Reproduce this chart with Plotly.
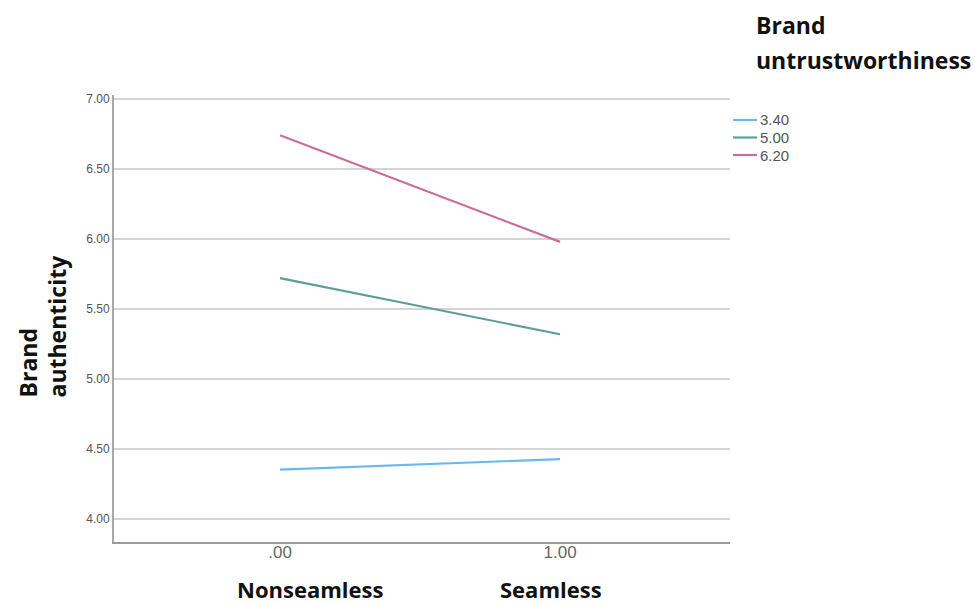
import plotly.graph_objects as go

# Simple-slopes style interaction plot: brand authenticity by seamlessness,
# one line per level of brand untrustworthiness.
x_values = [0, 1]
x_tick_labels = [".00", "1.00"]
group_labels = ["3.40", "5.00", "6.20"]
group_colors = ["#6BB8EE", "#5E9E97", "#CB6E97"]
authenticity = {
    "3.40": [4.35, 4.425],
    "5.00": [5.72, 5.318],
    "6.20": [6.742, 5.979],
}
y_ticks = [4.0, 4.5, 5.0, 5.5, 6.0, 6.5, 7.0]

# plot-area geometry (pixels) used to place free text around the axes
W, H = 975, 605
L, R, T, B = 114, 730, 95, 542


def px_x(px):
    return (px - L) / (R - L)


def px_y(py):
    return (B - py) / (B - T)


fig = go.Figure()
for name, color in zip(group_labels, group_colors):
    fig.add_trace(go.Scatter(
        x=x_values, y=authenticity[name], mode="lines", name=name,
        line=dict(color=color, width=2.2), showlegend=False,
    ))

bold_font = dict(family="Open Sans", size=22, color="#111111", weight="bold")
title_font = dict(family="Open Sans", size=23, color="#111111", weight="bold")
legend_font = dict(family="Liberation Sans", size=15, color="#555555")

annotations = [
    dict(text="Nonseamless", x=px_x(310), y=px_y(589), xref="paper",
         yref="paper", showarrow=False, font=bold_font,
         xanchor="center", yanchor="middle"),
    dict(text="Seamless", x=px_x(551), y=px_y(589), xref="paper",
         yref="paper", showarrow=False, font=bold_font,
         xanchor="center", yanchor="middle"),
    dict(text="Brand<br>authenticity", x=px_x(42), y=px_y(400),
         xref="paper", yref="paper", showarrow=False, textangle=-90,
         align="left", font=title_font, xanchor="center",
         yanchor="bottom"),
    dict(text="Brand", x=px_x(754), y=px_y(25), xref="paper",
         yref="paper", showarrow=False, font=title_font,
         xanchor="left", yanchor="middle"),
    dict(text="untrustworthiness", x=px_x(754), y=px_y(60),
         xref="paper", yref="paper", showarrow=False, font=title_font,
         xanchor="left", yanchor="middle"),
]

# legend key: short coloured line plus the group value for each series
shapes = []
key_top, key_step = 120, 17.5
for i, (name, color) in enumerate(zip(group_labels, group_colors)):
    yk = px_y(key_top + i * key_step)
    shapes.append(dict(type="line", xref="paper", yref="paper",
                       x0=px_x(733), x1=px_x(757), y0=yk, y1=yk,
                       line=dict(color=color, width=2.2)))
    annotations.append(dict(text=name, x=px_x(758), y=yk, xref="paper",
                            yref="paper", showarrow=False, font=legend_font,
                            xanchor="left", yanchor="middle"))

fig.update_layout(
    width=W, height=H,
    margin=dict(l=L, r=W - R, t=T, b=H - B),
    paper_bgcolor="white", plot_bgcolor="white",
    showlegend=False,
    xaxis=dict(
        range=[-0.593, 1.607], tickvals=x_values, ticktext=x_tick_labels,
        showgrid=False, zeroline=False, showline=True, linecolor="#9a9a9a",
        linewidth=2, ticks="", ticklabelstandoff=-6,
        tickfont=dict(family="Liberation Sans", size=17, color="#666666"),
    ),
    yaxis=dict(
        range=[3.832, 7.03], tickvals=y_ticks,
        ticktext=[f"{v:.2f}" for v in y_ticks],
        showgrid=True, gridcolor="#d4d4d4", gridwidth=2, zeroline=False,
        showline=True, linecolor="#a8a8a8", linewidth=2, ticks="",
        tickfont=dict(family="Liberation Sans", size=12, color="#555555"),
    ),
    annotations=annotations,
    shapes=shapes,
)

fig.write_html("out.html")
